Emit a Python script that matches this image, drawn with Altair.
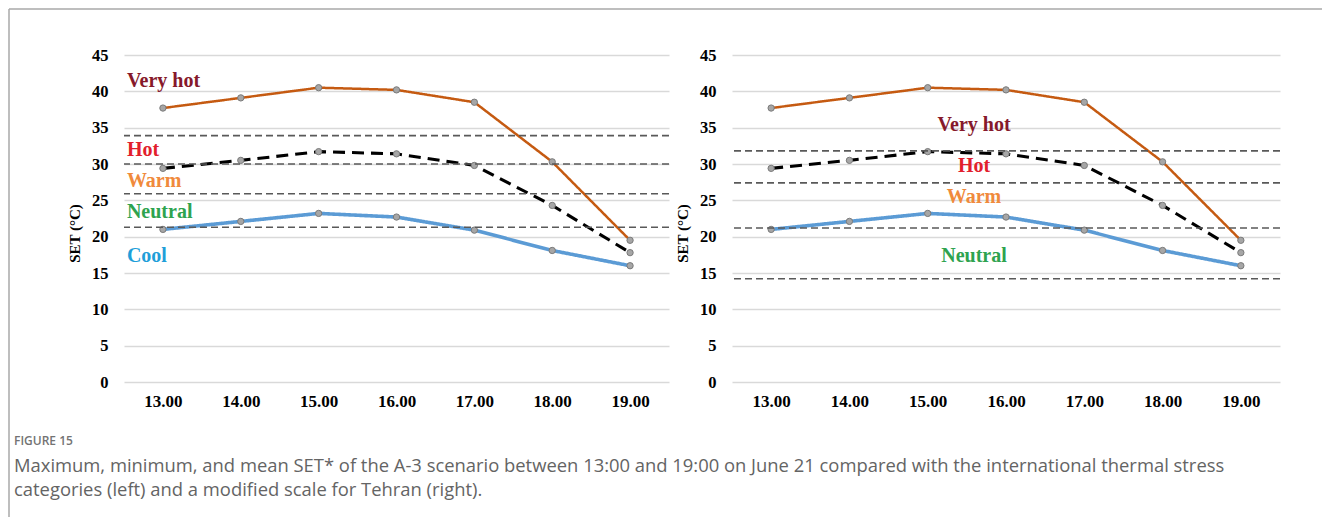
import altair as alt
import pandas as pd

# ---------------- data ----------------
times = ["13.00", "14.00", "15.00", "16.00", "17.00", "18.00", "19.00"]
max_set = [37.7, 39.1, 40.5, 40.2, 38.5, 30.3, 19.5]
mean_set = [29.4, 30.5, 31.7, 31.4, 29.8, 24.3, 17.8]
min_set = [21.0, 22.1, 23.2, 22.7, 20.9, 18.1, 16.0]
series_names = ["Maximum", "Mean", "Minimum"]
y_ticks = [0, 5, 10, 15, 20, 25, 30, 35, 40, 45]

# thermal stress thresholds
thr_left = [33.9, 30.0, 25.9, 21.3]     # international scale
thr_right = [31.8, 27.4, 21.2, 14.2]    # modified scale for Tehran

cat_left = ["Very hot", "Hot", "Warm", "Neutral", "Cool"]
cat_left_at = [41.4, 31.9, 27.7, 23.4, 17.3]
cat_left_col = ["#86192b", "#e2202c", "#f08a3c", "#2ea34f", "#1f9fd9"]

cat_right = ["Very hot", "Hot", "Warm", "Neutral"]
cat_right_at = [35.4, 29.7, 25.4, 17.4]
cat_right_col = ["#86192b", "#e2202c", "#f08a3c", "#2ea34f"]

fig_label = "FIGURE 15"
caption_lines = [
    "Maximum, minimum, and mean SET* of the A-3 scenario between 13:00 and 19:00 on June 21 compared with the international thermal stress",
    "categories (left) and a modified scale for Tehran (right).",
]

# ---------------- tables ----------------
rows = []
for s, vals in zip(series_names, (max_set, mean_set, min_set)):
    for t, v in zip(times, vals):
        rows.append({"time": t, "series": s, "set": v})
df = pd.DataFrame(rows)

SERIF = "Liberation Serif"
H = 327


def panel(width, thresholds, labels, label_at, label_col, label_time, label_align, label_dx, title_x, extras=None):
    x_enc = alt.X(
        "time:N", sort=times,
        scale=alt.Scale(type="point", padding=0.5),
        axis=alt.Axis(title=None, labelAngle=0, labelFont=SERIF, labelFontWeight="bold",
                      labelFontSize=17, labelColor="#000", domain=False, ticks=False,
                      labelPadding=11, grid=False),
    )
    y_enc = alt.Y(
        "set:Q", scale=alt.Scale(domain=[0, 45], nice=False),
        axis=alt.Axis(values=y_ticks, title="SET (°C)", titleFont=SERIF,
                      titleFontWeight="bold", titleFontSize=15, titleColor="#000",
                      titleX=title_x, titleY=178, labelOverlap=False, labelFlush=False,
                      labelFont=SERIF, labelFontWeight="bold", labelFontSize=16.5,
                      labelColor="#000", labelPadding=16, domain=False, ticks=False,
                      grid=True, gridColor="#d9d9d9", gridWidth=1.5),
    )
    base = alt.Chart(df)
    lines = base.mark_line().encode(
        x=x_enc, y=y_enc,
        color=alt.Color("series:N", scale=alt.Scale(domain=series_names,
                        range=["#c55a11", "#000000", "#5b9bd5"]), legend=None),
        strokeDash=alt.StrokeDash("series:N", scale=alt.Scale(domain=series_names,
                                  range=[[1, 0], [12, 7], [1, 0]]), legend=None),
        strokeWidth=alt.StrokeWidth("series:N", scale=alt.Scale(domain=series_names,
                                    range=[2.5, 3.6, 2.5]), legend=None),
    )
    points = base.mark_circle(size=40, color="#a6a6a6", stroke="#7a7a7a",
                              strokeWidth=1, opacity=1).encode(x=x_enc, y=y_enc)
    thr = alt.Chart(pd.DataFrame({"set": thresholds})).mark_rule(
        color="#595959", strokeDash=[7, 4], strokeWidth=1.6
    ).encode(y=y_enc)
    lab = alt.Chart(pd.DataFrame({
        "time": [label_time] * len(labels), "set": label_at,
        "label": labels, "col": label_col,
    })).mark_text(align=label_align, baseline="middle", dx=label_dx, font=SERIF,
                  fontWeight="bold", fontSize=20).encode(
        x=x_enc, y=y_enc, text="label:N",
        color=alt.Color("col:N", scale=None),
    )
    layers = [lines, points, thr, lab] + (extras or [])
    return alt.layer(*layers).resolve_scale(color="independent", strokeDash="independent",
                                            strokeWidth="independent").properties(
        width=width, height=H)


one = pd.DataFrame({"k": [0]})
frame_col = "#a9a9a9"
frame_top = alt.Chart(one).mark_rule(color=frame_col, strokeWidth=1.5).encode(
    x=alt.value(-115), x2=alt.value(1198), y=alt.value(-46))
frame_left = alt.Chart(one).mark_rule(color=frame_col, strokeWidth=1.5).encode(
    x=alt.value(-115), y=alt.value(-46), y2=alt.value(462))
fig_text = alt.Chart(one).mark_text(
    text=fig_label, align="left", baseline="middle", font="Open Sans",
    fontSize=12, fontWeight=600, color="#737373").encode(
    x=alt.value(-110), y=alt.value(386))
cap_text = alt.Chart(one).mark_text(
    text=caption_lines, align="left", baseline="alphabetic", font="Open Sans",
    fontSize=18.4, lineHeight=24, color="#646464").encode(
    x=alt.value(-110), y=alt.value(417))

left = panel(545, thr_left, cat_left, cat_left_at, cat_left_col, "13.00", "left", -36, -42,
             extras=[frame_top, frame_left, fig_text, cap_text])
right = panel(548, thr_right, cat_right, cat_right_at, cat_right_col, "16.00", "center", -32, -42)

chart = alt.hconcat(left, right, spacing=63, bounds="flush").configure_view(
    stroke=None).properties(padding=0, background="#ffffff")

chart.save("out.html", embed_options={"renderer": "svg", "actions": False})
